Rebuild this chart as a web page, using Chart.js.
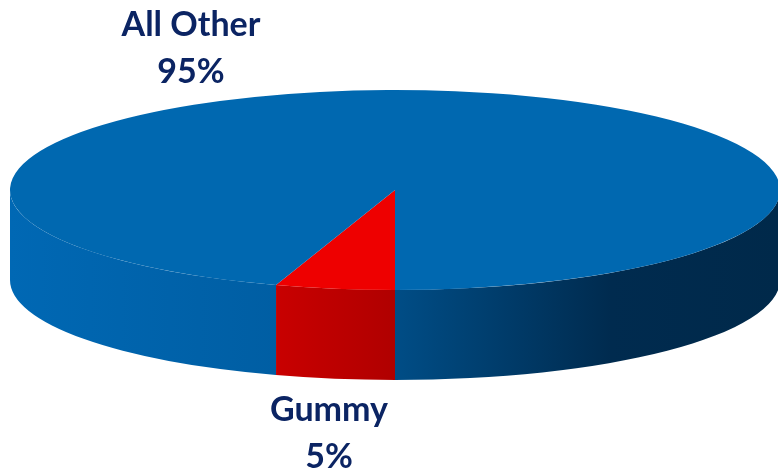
<!DOCTYPE html>
<html>
<head>
<meta charset="utf-8">
<script src="https://cdn.jsdelivr.net/npm/chart.js@4.4.0/dist/chart.umd.min.js"></script>
<style>
  html, body { margin: 0; padding: 0; background: #fff; }
  #chart { display: block; }
</style>
</head>
<body>
<canvas id="chart" width="778" height="468"></canvas>
<script>
// slice data
const labels = ['Gummy', 'All Other'];
const shares = [5, 95];

// look of the tilted disc
const topColors = ['#ee0000', '#0068b0'];
const CX = 395, CY = 190, RX = 385, RY = 100, DEPTH = 90;
const labelPos = [[329, 421], [191, 36]];
const LINE_GAP = 47;

// side wall shading, lighter on the left and darker to the right
function wallFill(ctx, i) {
  let g;
  if (i === 0) {
    g = ctx.createLinearGradient(278, 0, 395, 0);
    g.addColorStop(0, '#c80000');
    g.addColorStop(1, '#b00000');
  } else {
    g = ctx.createLinearGradient(CX - RX, 0, CX + RX, 0);
    g.addColorStop(0, '#0068b4');
    g.addColorStop(0.35, '#005ea3');
    g.addColorStop(0.5, '#004d86');
    g.addColorStop(0.78, '#002b4f');
    g.addColorStop(1, '#00294a');
  }
  return g;
}

const pie3d = {
  id: 'pie3d',
  beforeDatasetsDraw(chart) {
    const ctx = chart.ctx;
    const arcs = chart.getDatasetMeta(0).data;

    // front walls: only the part of each slice facing the viewer (0..PI)
    arcs.forEach((arc, i) => {
      const { startAngle, endAngle } = arc.getProps(['startAngle', 'endAngle']);
      [0, 2 * Math.PI].forEach(off => {
        const a = Math.max(startAngle, off) - off;
        const b = Math.min(endAngle, off + Math.PI) - off;
        if (b <= a) return;
        ctx.beginPath();
        ctx.ellipse(CX, CY, RX, RY, 0, a, b);
        ctx.ellipse(CX, CY + DEPTH, RX, RY, 0, b, a, true);
        ctx.closePath();
        ctx.fillStyle = wallFill(ctx, i);
        ctx.fill();
      });
    });

    // squash the pie into the top ellipse
    const { x, y, outerRadius } = arcs[0].getProps(['x', 'y', 'outerRadius']);
    ctx.save();
    ctx.translate(CX, CY);
    ctx.scale(RX / outerRadius, RY / outerRadius);
    ctx.translate(-x, -y);
  },
  afterDatasetsDraw(chart) {
    const ctx = chart.ctx;
    ctx.restore();

    const total = shares.reduce((s, v) => s + v, 0);
    ctx.save();
    ctx.font = 'bold 34px Lato';
    ctx.fillStyle = '#0b2463';
    ctx.textAlign = 'center';
    ctx.textBaseline = 'alphabetic';
    labels.forEach((l, i) => {
      const [lx, ly] = labelPos[i];
      ctx.fillText(l, lx, ly);
      ctx.fillText(Math.round(shares[i] / total * 100) + '%', lx, ly + LINE_GAP);
    });
    ctx.restore();
  }
};

new Chart(document.getElementById('chart'), {
  type: 'pie',
  data: {
    labels: labels,
    datasets: [{
      data: shares,
      backgroundColor: topColors,
      borderWidth: 0,
      hoverOffset: 0,
      clip: false
    }]
  },
  options: {
    responsive: false,
    animation: false,
    events: [],
    rotation: 180,
    layout: { padding: 0 },
    plugins: {
      legend: { display: false },
      tooltip: { enabled: false }
    }
  },
  plugins: [pie3d]
});
</script>
</body>
</html>
